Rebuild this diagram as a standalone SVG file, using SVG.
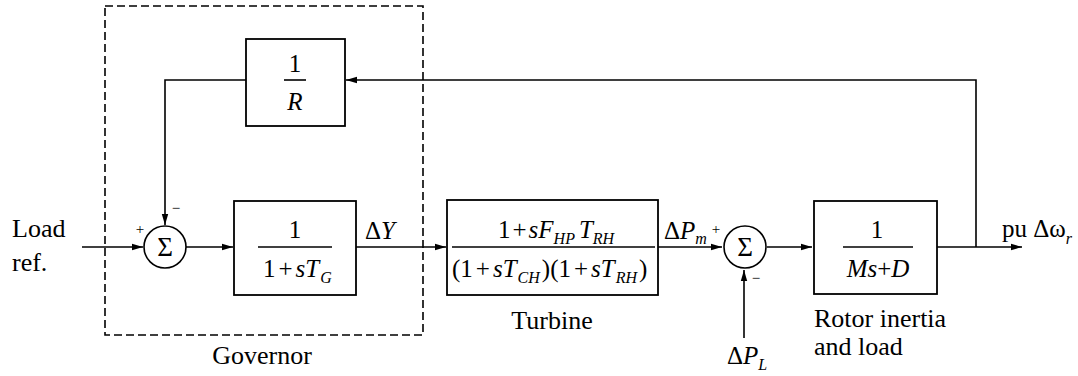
<svg xmlns="http://www.w3.org/2000/svg" width="1078" height="376" viewBox="0 0 1078 376" font-family="'Liberation Serif', 'DejaVu Serif', serif">
<style>
.blk{fill:#fff;stroke:#000;stroke-width:1.8}
.ln{fill:none;stroke:#000;stroke-width:1.6}
.fl{stroke:#000;stroke-width:1.6}
.t{font-family:'Liberation Serif','DejaVu Serif',serif;fill:#000}
.lbl{font-size:26px}
.m{font-size:25px}
.i{font-style:italic}
.sub{font-size:16px;font-style:italic}
.sg{font-size:15px}
</style>
<defs>
<marker id="ah" markerWidth="12" markerHeight="8" refX="11" refY="4" orient="auto" markerUnits="userSpaceOnUse">
<path d="M0,0.8 L11,4 L0,7.2 Z" fill="#000"/>
</marker>
</defs>
<g id="governor-boundary">
<rect x="105" y="6" width="318" height="329" fill="none" stroke="#000" stroke-width="1.6" stroke-dasharray="8 4"/>
<text class="t lbl" x="262" y="364" text-anchor="middle">Governor</text>
</g>
<g id="connectors">
<line class="ln" x1="82" y1="247" x2="143" y2="247" marker-end="url(#ah)"/>
<line class="ln" x1="186" y1="247" x2="233" y2="247" marker-end="url(#ah)"/>
<line class="ln" x1="356" y1="247" x2="446" y2="247" marker-end="url(#ah)"/>
<line class="ln" x1="658" y1="247" x2="722" y2="247" marker-end="url(#ah)"/>
<line class="ln" x1="767" y1="247" x2="812" y2="247" marker-end="url(#ah)"/>
<line class="ln" x1="937" y1="247" x2="1022" y2="247" marker-end="url(#ah)"/>
<polyline class="ln" points="976,247 976,80 346,80" marker-end="url(#ah)"/>
<polyline class="ln" points="246,80 165,80 165,225" marker-end="url(#ah)"/>
<line class="ln" x1="744" y1="338" x2="744" y2="270" marker-end="url(#ah)"/>
</g>
<g id="load-ref">
<text class="t lbl" x="12" y="237">Load</text>
<text class="t lbl" x="12" y="271">ref.</text>
</g>
<g id="sum1">
<circle cx="165" cy="247" r="21" fill="#fff" stroke="#000" stroke-width="1.6"/>
<text class="t" x="165" y="256" font-size="27" text-anchor="middle">Σ</text>
<text class="t sg" x="140" y="234" text-anchor="middle">+</text>
<text class="t sg" x="176" y="213" text-anchor="middle">−</text>
</g>
<g id="inv-R">
<rect class="blk" x="246" y="39" width="99" height="87"/>
<text class="t m" x="295" y="72" text-anchor="middle">1</text>
<line class="fl" x1="284" y1="80" x2="306" y2="80"/>
<text class="t m i" x="295" y="110" text-anchor="middle">R</text>
</g>
<g id="governor-tf">
<rect class="blk" x="234" y="201" width="122" height="94"/>
<text class="t m" x="295" y="238" text-anchor="middle">1</text>
<line class="fl" x1="258" y1="247" x2="332" y2="247"/>
<text class="t m" x="263" y="277">1<tspan dx="3">+</tspan><tspan class="i" dx="3">sT</tspan><tspan class="sub" dy="6" dx="1">G</tspan></text>
<text class="t m" x="365" y="239">Δ<tspan class="i">Y</tspan></text>
</g>
<g id="turbine">
<rect class="blk" x="447" y="200" width="211" height="95"/>
<text class="t m" x="498" y="238">1<tspan dx="2">+</tspan><tspan class="i" dx="2">sF</tspan><tspan class="sub" dy="6">HP</tspan><tspan class="i" dy="-6" dx="4">T</tspan><tspan class="sub" dy="6">RH</tspan></text>
<line class="fl" x1="452" y1="247" x2="655" y2="247"/>
<text class="t m" x="452" y="277">(1<tspan dx="3">+</tspan><tspan class="i" dx="3">sT</tspan><tspan class="sub" dy="6" dx="1">CH</tspan><tspan dy="-6" dx="2">)(1</tspan><tspan dx="3">+</tspan><tspan class="i" dx="3">sT</tspan><tspan class="sub" dy="6" dx="1">RH</tspan><tspan dy="-6" dx="2">)</tspan></text>
<text class="t lbl" x="552" y="329" text-anchor="middle">Turbine</text>
<text class="t m" x="664" y="239">Δ<tspan class="i">P</tspan><tspan class="sub" dy="5">m</tspan></text>
</g>
<g id="sum2">
<circle cx="745" cy="247" r="21" fill="#fff" stroke="#000" stroke-width="1.6"/>
<text class="t" x="745" y="256" font-size="27" text-anchor="middle">Σ</text>
<text class="t sg" x="716" y="234" text-anchor="middle">+</text>
<text class="t sg" x="756" y="283" text-anchor="middle">−</text>
<text class="t m" x="727" y="364">Δ<tspan class="i">P</tspan><tspan class="sub" dy="6">L</tspan></text>
</g>
<g id="rotor">
<rect class="blk" x="814" y="201" width="123" height="93"/>
<text class="t m" x="877" y="238" text-anchor="middle">1</text>
<line class="fl" x1="843" y1="247" x2="913" y2="247"/>
<text class="t m i" x="878" y="277" text-anchor="middle">Ms<tspan font-style="normal">+</tspan>D</text>
<text class="t lbl" x="814" y="327">Rotor inertia</text>
<text class="t lbl" x="814" y="355">and load</text>
</g>
<g id="output">
<text class="t m" x="1002" y="237">pu <tspan>Δω</tspan><tspan class="sub" dy="7">r</tspan></text>
</g>
</svg>
